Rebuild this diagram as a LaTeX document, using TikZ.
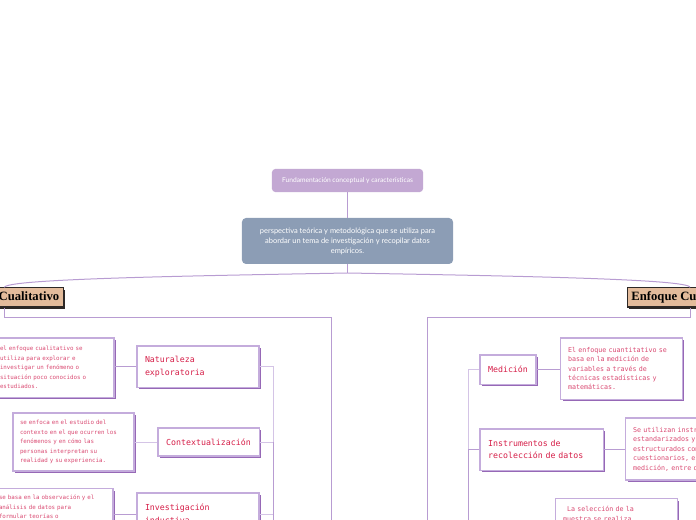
\documentclass[tikz,border=0pt]{standalone}
\usepackage{fontspec}
\setmainfont{Liberation Serif}
\newfontfamily\mapsans{Lato}
\newfontfamily\mapmono{DejaVu Sans Mono}
\usepackage{tikz}
\usetikzlibrary{shadows}

\definecolor{fundlila}{RGB}{195,168,211}
\definecolor{mainslate}{RGB}{140,157,181}
\definecolor{tipotan}{RGB}{227,187,155}
\definecolor{tipoedge}{RGB}{45,40,38}
\definecolor{linklila}{RGB}{184,156,210}
\definecolor{linksoft}{RGB}{212,196,230}
\definecolor{boxedge}{RGB}{196,172,220}
\definecolor{boxshade}{RGB}{150,104,182}
\definecolor{titlered}{RGB}{214,30,72}
\definecolor{notepink}{RGB}{218,74,114}

\tikzset{
  fundbox/.style={fill=fundlila, rounded corners=2.5pt, text=white,
    font=\mapsans\fontsize{5pt}{6pt}\selectfont,
    minimum width=113.3pt, minimum height=17.3pt, inner sep=0pt},
  mainbox/.style={fill=mainslate, rounded corners=3pt, text=white, align=center,
    font=\mapsans\fontsize{5.6pt}{7.5pt}\selectfont,
    minimum width=158.3pt, minimum height=34.5pt, inner sep=0pt},
  tipobox/.style={fill=tipotan, draw=tipoedge, line width=0.8pt, text=black,
    font=\bfseries\fontsize{9.5pt}{10pt}\selectfont,
    minimum height=14.3pt, inner xsep=3pt, inner ysep=0pt,
    drop shadow={shadow xshift=1.5pt, shadow yshift=-1.5pt, fill=tipoedge, opacity=1}},
  ideabox/.style={fill=white, draw=boxedge, line width=0.8pt, text=titlered, align=left,
    font=\mapmono\fontsize{6.2pt}{9.4pt}\selectfont, inner xsep=6pt,
    drop shadow={shadow xshift=1.5pt, shadow yshift=-1.5pt, fill=boxshade, opacity=1}},
  notebox/.style={fill=white, draw=boxedge, line width=0.8pt, text=notepink, align=left,
    font=\mapmono\fontsize{4.35pt}{7.1pt}\selectfont, inner xsep=5.25pt,
    minimum width=90.75pt, text width=80.25pt,
    drop shadow={shadow xshift=1.5pt, shadow yshift=-1.5pt, fill=boxshade, opacity=1}},
  bignote/.style={notebox, font=\mapmono\fontsize{5pt}{7.1pt}\selectfont, inner xsep=5.5pt},
  link/.style={draw=linklila, line width=0.75pt},
  softlink/.style={draw=linksoft, line width=0.75pt}
}

\begin{document}
\begin{tikzpicture}[x=0.75pt,y=-0.75pt]
  \useasboundingbox (0,0) rectangle (696,520);
  \clip (0,0) rectangle (696,520);

  \node [fundbox] (fund) at (347.5,180.5) {Fundamentación conceptual y características}; % top box
  \node [mainbox] (main) at (347.5,241) {perspectiva teórica y metodológica que se utiliza para\\abordar un tema de investigación y recopilar datos\\empíricos.};

  \node [tipobox] (cual) at (4.5,297.5) {Enfoque Cualitativo}; % left branch
  \node [tipobox] (cuan) at (690,297.5) {Enfoque Cuantitativo}; % right branch

  % left side
  \node [ideabox, minimum width=91.5pt, text width=79.5pt, minimum height=30.8pt] (nat) at (198,366.5) {Naturaleza\\exploratoria};
  \node [ideabox, align=center, minimum width=75.8pt, minimum height=21pt] (ctx) at (208.5,442) {Contextualización};
  \node [ideabox, minimum width=91.5pt, text width=79.5pt, minimum height=31.5pt] (inv) at (198,514) {Investigación\\inductiva};

  \node [notebox, minimum height=44.3pt] (d1) at (53.5,367.5) {el enfoque cualitativo se\\utiliza para explorar e\\investigar un fenómeno o\\situación poco conocidos o\\estudiados.};
  \node [notebox, minimum height=43.5pt] (d2) at (73.5,442) {se enfoca en el estudio del\\contexto en el que ocurren los\\fenómenos y en cómo las\\personas interpretan su\\realidad y su experiencia.};
  \node [notebox, anchor=north, inner ysep=5pt] (d3) at (52.5,488) {se basa en la observación y el\\análisis de datos para\\formular teorías o};

  % right side
  \node [ideabox, align=center, minimum width=42pt, minimum height=21.8pt] (med) at (508,369.5) {Medición};
  \node [ideabox, minimum width=92.3pt, text width=80pt, minimum height=30.8pt] (ins) at (541.5,449.5) {Instrumentos de\\recolección de datos};

  \node [bignote, minimum height=45.8pt] (r1) at (621.5,368.5) {El enfoque cuantitativo se\\basa en la medición de\\variables a través de\\técnicas estadísticas y\\matemáticas.};
  \node [bignote, minimum height=46.5pt] (r2) at (686.5,449) {Se utilizan instrumentos\\estandarizados y\\estructurados como\\cuestionarios, escalas de\\medición, entre otros.};
  \node [bignote, anchor=north, inner ysep=6pt] (r3) at (616.5,498) {\hphantom{x}La selección de la\\muestra se realiza};

  \coordinate (fork) at (347.5,273);
  \coordinate (lframe) at (331,318);
  \coordinate (rframe) at (427,318);
  \coordinate (lbus) at (273,540);
  \coordinate (rbus) at (468,540);

  \draw [link] (fund) -- (main);
  \draw [link] (main.south) -- (fork);
  \draw [link] (fork) .. controls (180,276) and (4.5,279) .. (cual.north);
  \draw [link] (fork) .. controls (515,276) and (690,279) .. (cuan.north);

  \draw [link] (cual.south) -- (cual.south |- lframe) -- (lframe) -- (lframe |- lbus);
  \draw [link] (cuan.south) -- (cuan.south |- rframe) -- (rframe) -- (rframe |- rbus);

  \draw [softlink] (nat.east) -- (nat.east -| lbus) -- (ctx.east -| lbus);
  \draw [link] (ctx.east -| lbus) -- (lbus);
  \draw [softlink] (ctx.east) -- (ctx.east -| lbus);
  \draw [softlink] (inv.east) -- (inv.east -| lbus);

  \draw [softlink] (med.west) -- (med.west -| rbus) -- (ins.west -| rbus);
  \draw [link] (ins.west) -- (ins.west -| rbus) -- (rbus);

  \draw [link] (nat.west) -- (nat.west -| d1.east);
  \draw [softlink] (ctx.west) -- (ctx.west -| d2.east);
  \draw [link] (inv.west) -- (inv.west -| d3.east);
  \draw [link] (med.east) -- (med.east -| r1.west);
  \draw [link] (ins.east) -- (ins.east -| r2.west);
\end{tikzpicture}
\end{document}
